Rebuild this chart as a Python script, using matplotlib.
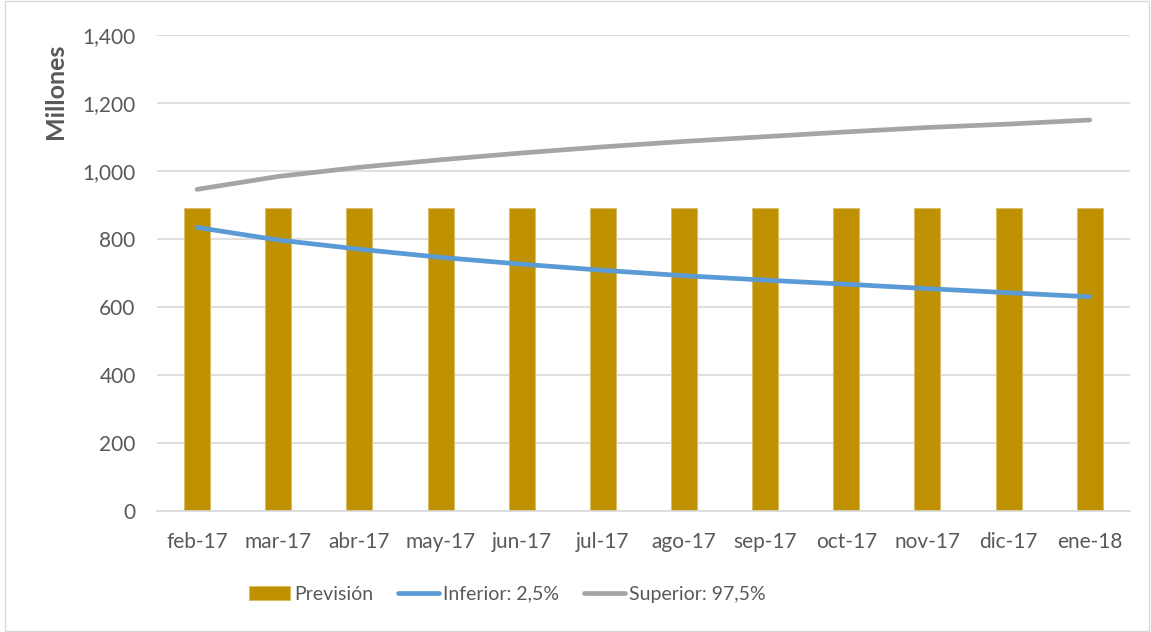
import numpy as np
import matplotlib
matplotlib.use("Agg")
from matplotlib import pyplot as plt
from matplotlib.patches import Rectangle

# datos
meses = ["feb-17", "mar-17", "abr-17", "may-17", "jun-17", "jul-17",
         "ago-17", "sep-17", "oct-17", "nov-17", "dic-17", "ene-18"]
prevision = [890] * 12
inferior = [834, 797, 770, 746, 726, 708, 692, 679, 667, 654, 642, 630]
superior = [946, 984, 1011, 1033, 1053, 1071, 1087, 1101, 1115, 1128, 1138, 1150]

plt.rcParams['font.family'] = ['Lato', 'DejaVu Sans']
gris_txt = '#595959'

fig = plt.figure(figsize=(11.51, 6.32), dpi=100)
ax = fig.add_axes([0.136, 0.1915, 0.846, 0.7531])

x = np.arange(len(meses))
b = ax.bar(x, prevision, width=0.32, color='#BF9000', edgecolor='#D9BE6A',
           linewidth=0.8, label='Previsión', zorder=2)
l1, = ax.plot(x, inferior, color='#5B9BD5', lw=3.4, solid_capstyle='round',
              label='Inferior: 2,5%', zorder=3)
l2, = ax.plot(x, superior, color='#A5A5A5', lw=3.4, solid_capstyle='round',
              label='Superior: 97,5%', zorder=3)

ax.set_xlim(-0.5, 11.5)
ax.set_ylim(0, 1400)
ax.set_yticks(np.arange(0, 1401, 200))
ax.set_yticklabels(['{:,}'.format(v) for v in range(0, 1401, 200)])
ax.set_xticks(x)
ax.set_xticklabels(meses)
ax.grid(axis='y', color='#D9D9D9', lw=1.2, zorder=0)
ax.set_axisbelow(True)
for s in ['top', 'right', 'left']:
    ax.spines[s].set_visible(False)
ax.spines['bottom'].set_color('#D9D9D9')
ax.spines['bottom'].set_linewidth(1.2)
ax.tick_params(length=0, labelsize=15, colors=gris_txt, pad=15)
ax.tick_params(axis='y', pad=15)

ax.set_ylabel('Millones', fontsize=18, fontweight='bold', color=gris_txt)
ax.yaxis.set_label_coords(-0.092, 0.882)

leg = fig.legend([b, l1, l2], ['Previsión', 'Inferior: 2,5%', 'Superior: 97,5%'],
                 loc='center', bbox_to_anchor=(0.441, 0.06), ncol=3, frameon=False,
                 fontsize=14, handlelength=2.1, handletextpad=0.2, columnspacing=1.3)
for t in leg.get_texts():
    t.set_color(gris_txt)

fig.patches.append(Rectangle((0.004, 0.002), 0.994, 0.996, transform=fig.transFigure,
                             fill=False, edgecolor='#D9D9D9', lw=1))

fig.savefig('out.png', dpi=100)
